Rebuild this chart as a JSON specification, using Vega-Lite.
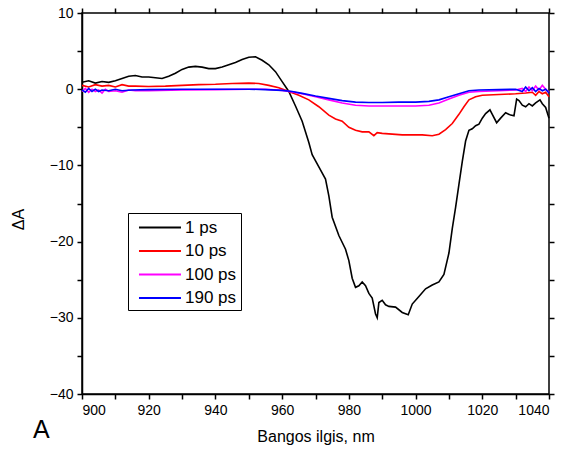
{
  "$schema": "https://vega.github.io/schema/vega-lite/v6.json",
  "autosize": {"type": "none"},
  "padding": {"left": 82, "top": 13, "right": 18, "bottom": 58},
  "width": 467,
  "height": 381,
  "background": "white",
  "config": {
    "font": "Liberation Sans",
    "view": {"stroke": "black", "strokeWidth": 1.5},
    "axis": {"grid": false, "domainColor": "black", "domainWidth": 1.5, "tickColor": "black", "tickWidth": 1.5, "labelColor": "black", "labelFont": "Liberation Sans", "labelFontSize": 14, "titleFont": "Liberation Sans", "titleFontWeight": "normal", "titleColor": "black"}
  },
  "title": {"text": "A", "orient": "bottom", "anchor": "start", "frame": "group", "dx": -49, "offset": -26, "fontSize": 25, "fontWeight": "normal", "font": "Liberation Sans", "color": "black"},
  "datasets": {
    "spectra": [
      {"nm": 900, "v": 0.9, "s": "1 ps"}, {"nm": 902, "v": 1.1, "s": "1 ps"}, {"nm": 904, "v": 0.8, "s": "1 ps"}, {"nm": 906, "v": 1.0, "s": "1 ps"}, {"nm": 908, "v": 0.9, "s": "1 ps"}, {"nm": 910, "v": 1.1, "s": "1 ps"}, {"nm": 912, "v": 1.4, "s": "1 ps"}, {"nm": 914, "v": 1.7, "s": "1 ps"}, {"nm": 916, "v": 1.8, "s": "1 ps"}, {"nm": 918, "v": 1.6, "s": "1 ps"}, {"nm": 920, "v": 1.6, "s": "1 ps"}, {"nm": 922, "v": 1.5, "s": "1 ps"}, {"nm": 924, "v": 1.4, "s": "1 ps"}, {"nm": 926, "v": 1.7, "s": "1 ps"}, {"nm": 928, "v": 2.1, "s": "1 ps"}, {"nm": 930, "v": 2.6, "s": "1 ps"}, {"nm": 932, "v": 2.9, "s": "1 ps"}, {"nm": 934, "v": 3.0, "s": "1 ps"}, {"nm": 936, "v": 2.9, "s": "1 ps"}, {"nm": 938, "v": 2.7, "s": "1 ps"}, {"nm": 940, "v": 2.7, "s": "1 ps"}, {"nm": 942, "v": 2.9, "s": "1 ps"}, {"nm": 944, "v": 3.2, "s": "1 ps"}, {"nm": 946, "v": 3.5, "s": "1 ps"}, {"nm": 948, "v": 3.9, "s": "1 ps"}, {"nm": 950, "v": 4.2, "s": "1 ps"}, {"nm": 952, "v": 4.25, "s": "1 ps"}, {"nm": 954, "v": 3.8, "s": "1 ps"}, {"nm": 956, "v": 3.2, "s": "1 ps"}, {"nm": 958, "v": 2.3, "s": "1 ps"}, {"nm": 960, "v": 1.0, "s": "1 ps"}, {"nm": 962, "v": -0.3, "s": "1 ps"}, {"nm": 964, "v": -2.2, "s": "1 ps"}, {"nm": 966, "v": -4.2, "s": "1 ps"}, {"nm": 968, "v": -7.0, "s": "1 ps"}, {"nm": 969, "v": -8.6, "s": "1 ps"}, {"nm": 971, "v": -10.2, "s": "1 ps"}, {"nm": 973, "v": -11.8, "s": "1 ps"}, {"nm": 974, "v": -14.0, "s": "1 ps"}, {"nm": 975, "v": -16.8, "s": "1 ps"}, {"nm": 977, "v": -19.2, "s": "1 ps"}, {"nm": 979, "v": -21.0, "s": "1 ps"}, {"nm": 980, "v": -22.5, "s": "1 ps"}, {"nm": 981, "v": -24.8, "s": "1 ps"}, {"nm": 982, "v": -26.0, "s": "1 ps"}, {"nm": 983, "v": -25.8, "s": "1 ps"}, {"nm": 984, "v": -25.3, "s": "1 ps"}, {"nm": 985, "v": -25.8, "s": "1 ps"}, {"nm": 986, "v": -26.8, "s": "1 ps"}, {"nm": 987, "v": -27.4, "s": "1 ps"}, {"nm": 988, "v": -29.5, "s": "1 ps"}, {"nm": 988.5, "v": -30.0, "s": "1 ps"}, {"nm": 989, "v": -28.0, "s": "1 ps"}, {"nm": 990, "v": -27.7, "s": "1 ps"}, {"nm": 991, "v": -28.3, "s": "1 ps"}, {"nm": 992, "v": -28.5, "s": "1 ps"}, {"nm": 994, "v": -28.6, "s": "1 ps"}, {"nm": 996, "v": -29.3, "s": "1 ps"}, {"nm": 997.8, "v": -29.6, "s": "1 ps"}, {"nm": 999, "v": -28.2, "s": "1 ps"}, {"nm": 1001, "v": -27.2, "s": "1 ps"}, {"nm": 1003, "v": -26.2, "s": "1 ps"}, {"nm": 1005, "v": -25.7, "s": "1 ps"}, {"nm": 1007, "v": -25.3, "s": "1 ps"}, {"nm": 1008.5, "v": -24.3, "s": "1 ps"}, {"nm": 1010, "v": -21.5, "s": "1 ps"}, {"nm": 1011, "v": -18.3, "s": "1 ps"}, {"nm": 1012, "v": -15.5, "s": "1 ps"}, {"nm": 1013, "v": -12.5, "s": "1 ps"}, {"nm": 1014, "v": -9.5, "s": "1 ps"}, {"nm": 1015, "v": -6.8, "s": "1 ps"}, {"nm": 1016, "v": -5.4, "s": "1 ps"}, {"nm": 1017, "v": -5.2, "s": "1 ps"}, {"nm": 1018, "v": -4.8, "s": "1 ps"}, {"nm": 1019, "v": -4.6, "s": "1 ps"}, {"nm": 1020, "v": -3.8, "s": "1 ps"}, {"nm": 1021, "v": -3.2, "s": "1 ps"}, {"nm": 1022.3, "v": -2.7, "s": "1 ps"}, {"nm": 1023, "v": -3.3, "s": "1 ps"}, {"nm": 1024.3, "v": -4.4, "s": "1 ps"}, {"nm": 1025.5, "v": -3.8, "s": "1 ps"}, {"nm": 1027, "v": -3.1, "s": "1 ps"}, {"nm": 1028.5, "v": -3.4, "s": "1 ps"}, {"nm": 1029.5, "v": -3.5, "s": "1 ps"}, {"nm": 1030.3, "v": -1.3, "s": "1 ps"}, {"nm": 1031, "v": -1.5, "s": "1 ps"}, {"nm": 1032, "v": -2.1, "s": "1 ps"}, {"nm": 1033, "v": -2.3, "s": "1 ps"}, {"nm": 1034, "v": -1.9, "s": "1 ps"}, {"nm": 1035, "v": -2.2, "s": "1 ps"}, {"nm": 1036, "v": -1.8, "s": "1 ps"}, {"nm": 1037.3, "v": -1.4, "s": "1 ps"}, {"nm": 1038, "v": -1.9, "s": "1 ps"}, {"nm": 1039, "v": -2.4, "s": "1 ps"}, {"nm": 1040, "v": -3.8, "s": "1 ps"},

      {"nm": 900, "v": 0.5, "s": "10 ps"}, {"nm": 902, "v": 0.3, "s": "10 ps"}, {"nm": 904, "v": 0.6, "s": "10 ps"}, {"nm": 906, "v": 0.4, "s": "10 ps"}, {"nm": 908, "v": 0.5, "s": "10 ps"}, {"nm": 910, "v": 0.3, "s": "10 ps"}, {"nm": 912, "v": 0.6, "s": "10 ps"}, {"nm": 914, "v": 0.4, "s": "10 ps"}, {"nm": 916, "v": 0.4, "s": "10 ps"}, {"nm": 920, "v": 0.35, "s": "10 ps"}, {"nm": 925, "v": 0.4, "s": "10 ps"}, {"nm": 930, "v": 0.5, "s": "10 ps"}, {"nm": 935, "v": 0.6, "s": "10 ps"}, {"nm": 940, "v": 0.65, "s": "10 ps"}, {"nm": 945, "v": 0.75, "s": "10 ps"}, {"nm": 950, "v": 0.8, "s": "10 ps"}, {"nm": 953, "v": 0.75, "s": "10 ps"}, {"nm": 956, "v": 0.5, "s": "10 ps"}, {"nm": 959, "v": 0.2, "s": "10 ps"}, {"nm": 962, "v": -0.3, "s": "10 ps"}, {"nm": 965, "v": -0.8, "s": "10 ps"}, {"nm": 968, "v": -1.4, "s": "10 ps"}, {"nm": 971, "v": -2.3, "s": "10 ps"}, {"nm": 974, "v": -3.4, "s": "10 ps"}, {"nm": 976, "v": -3.9, "s": "10 ps"}, {"nm": 978, "v": -4.2, "s": "10 ps"}, {"nm": 980, "v": -5.0, "s": "10 ps"}, {"nm": 982, "v": -5.4, "s": "10 ps"}, {"nm": 984, "v": -5.6, "s": "10 ps"}, {"nm": 986, "v": -5.6, "s": "10 ps"}, {"nm": 987.5, "v": -6.1, "s": "10 ps"}, {"nm": 988.5, "v": -5.7, "s": "10 ps"}, {"nm": 990, "v": -5.8, "s": "10 ps"}, {"nm": 993, "v": -5.9, "s": "10 ps"}, {"nm": 996, "v": -6.0, "s": "10 ps"}, {"nm": 999, "v": -6.0, "s": "10 ps"}, {"nm": 1002, "v": -6.0, "s": "10 ps"}, {"nm": 1005, "v": -6.1, "s": "10 ps"}, {"nm": 1007, "v": -5.9, "s": "10 ps"}, {"nm": 1009, "v": -5.3, "s": "10 ps"}, {"nm": 1011, "v": -4.5, "s": "10 ps"}, {"nm": 1013, "v": -3.3, "s": "10 ps"}, {"nm": 1014.5, "v": -2.3, "s": "10 ps"}, {"nm": 1016, "v": -1.4, "s": "10 ps"}, {"nm": 1018, "v": -1.0, "s": "10 ps"}, {"nm": 1020, "v": -0.8, "s": "10 ps"}, {"nm": 1025, "v": -0.7, "s": "10 ps"}, {"nm": 1030, "v": -0.6, "s": "10 ps"}, {"nm": 1033, "v": -0.5, "s": "10 ps"}, {"nm": 1035, "v": -0.4, "s": "10 ps"}, {"nm": 1036, "v": -0.8, "s": "10 ps"}, {"nm": 1037, "v": -0.3, "s": "10 ps"}, {"nm": 1038, "v": -0.6, "s": "10 ps"}, {"nm": 1039, "v": -0.4, "s": "10 ps"}, {"nm": 1040, "v": -1.0, "s": "10 ps"},

      {"nm": 900, "v": -0.3, "s": "100 ps"}, {"nm": 901, "v": 0.1, "s": "100 ps"}, {"nm": 902, "v": -0.4, "s": "100 ps"}, {"nm": 903, "v": 0.0, "s": "100 ps"}, {"nm": 904, "v": -0.3, "s": "100 ps"}, {"nm": 905, "v": -0.1, "s": "100 ps"}, {"nm": 906, "v": -0.5, "s": "100 ps"}, {"nm": 907, "v": 0.0, "s": "100 ps"}, {"nm": 908, "v": -0.3, "s": "100 ps"}, {"nm": 910, "v": -0.2, "s": "100 ps"}, {"nm": 912, "v": -0.4, "s": "100 ps"}, {"nm": 914, "v": -0.1, "s": "100 ps"}, {"nm": 916, "v": -0.2, "s": "100 ps"}, {"nm": 920, "v": -0.2, "s": "100 ps"}, {"nm": 930, "v": -0.1, "s": "100 ps"}, {"nm": 940, "v": -0.05, "s": "100 ps"}, {"nm": 950, "v": 0.0, "s": "100 ps"}, {"nm": 955, "v": 0.0, "s": "100 ps"}, {"nm": 960, "v": -0.15, "s": "100 ps"}, {"nm": 963, "v": -0.35, "s": "100 ps"}, {"nm": 966, "v": -0.6, "s": "100 ps"}, {"nm": 970, "v": -1.0, "s": "100 ps"}, {"nm": 974, "v": -1.4, "s": "100 ps"}, {"nm": 978, "v": -1.8, "s": "100 ps"}, {"nm": 982, "v": -2.1, "s": "100 ps"}, {"nm": 986, "v": -2.2, "s": "100 ps"}, {"nm": 990, "v": -2.2, "s": "100 ps"}, {"nm": 995, "v": -2.2, "s": "100 ps"}, {"nm": 1000, "v": -2.2, "s": "100 ps"}, {"nm": 1004, "v": -2.1, "s": "100 ps"}, {"nm": 1007, "v": -1.8, "s": "100 ps"}, {"nm": 1010, "v": -1.3, "s": "100 ps"}, {"nm": 1013, "v": -0.8, "s": "100 ps"}, {"nm": 1016, "v": -0.4, "s": "100 ps"}, {"nm": 1019, "v": -0.3, "s": "100 ps"}, {"nm": 1025, "v": -0.2, "s": "100 ps"}, {"nm": 1030, "v": -0.1, "s": "100 ps"}, {"nm": 1032, "v": 0.1, "s": "100 ps"}, {"nm": 1033, "v": -0.3, "s": "100 ps"}, {"nm": 1034, "v": 0.3, "s": "100 ps"}, {"nm": 1035, "v": -0.2, "s": "100 ps"}, {"nm": 1036, "v": 0.4, "s": "100 ps"}, {"nm": 1037, "v": -0.1, "s": "100 ps"}, {"nm": 1038, "v": 0.5, "s": "100 ps"}, {"nm": 1039, "v": 0.0, "s": "100 ps"}, {"nm": 1040, "v": -0.4, "s": "100 ps"},

      {"nm": 900, "v": -0.1, "s": "190 ps"}, {"nm": 901, "v": -0.4, "s": "190 ps"}, {"nm": 902, "v": 0.1, "s": "190 ps"}, {"nm": 903, "v": -0.3, "s": "190 ps"}, {"nm": 904, "v": 0.0, "s": "190 ps"}, {"nm": 905, "v": -0.3, "s": "190 ps"}, {"nm": 906, "v": -0.1, "s": "190 ps"}, {"nm": 908, "v": -0.2, "s": "190 ps"}, {"nm": 910, "v": 0.0, "s": "190 ps"}, {"nm": 912, "v": -0.2, "s": "190 ps"}, {"nm": 915, "v": -0.1, "s": "190 ps"}, {"nm": 920, "v": -0.05, "s": "190 ps"}, {"nm": 930, "v": 0.0, "s": "190 ps"}, {"nm": 940, "v": 0.0, "s": "190 ps"}, {"nm": 950, "v": 0.0, "s": "190 ps"}, {"nm": 955, "v": -0.05, "s": "190 ps"}, {"nm": 960, "v": -0.15, "s": "190 ps"}, {"nm": 963, "v": -0.3, "s": "190 ps"}, {"nm": 966, "v": -0.55, "s": "190 ps"}, {"nm": 970, "v": -0.9, "s": "190 ps"}, {"nm": 974, "v": -1.2, "s": "190 ps"}, {"nm": 978, "v": -1.5, "s": "190 ps"}, {"nm": 982, "v": -1.7, "s": "190 ps"}, {"nm": 986, "v": -1.75, "s": "190 ps"}, {"nm": 990, "v": -1.75, "s": "190 ps"}, {"nm": 995, "v": -1.7, "s": "190 ps"}, {"nm": 1000, "v": -1.7, "s": "190 ps"}, {"nm": 1004, "v": -1.6, "s": "190 ps"}, {"nm": 1007, "v": -1.4, "s": "190 ps"}, {"nm": 1010, "v": -1.0, "s": "190 ps"}, {"nm": 1013, "v": -0.6, "s": "190 ps"}, {"nm": 1016, "v": -0.2, "s": "190 ps"}, {"nm": 1019, "v": -0.1, "s": "190 ps"}, {"nm": 1025, "v": -0.05, "s": "190 ps"}, {"nm": 1030, "v": 0.0, "s": "190 ps"}, {"nm": 1032, "v": -0.3, "s": "190 ps"}, {"nm": 1033, "v": 0.3, "s": "190 ps"}, {"nm": 1034, "v": -0.2, "s": "190 ps"}, {"nm": 1035, "v": 0.2, "s": "190 ps"}, {"nm": 1036, "v": -0.3, "s": "190 ps"}, {"nm": 1037, "v": 0.1, "s": "190 ps"}, {"nm": 1038, "v": -0.2, "s": "190 ps"}, {"nm": 1039, "v": 0.0, "s": "190 ps"}, {"nm": 1040, "v": -0.5, "s": "190 ps"}
    ]
  },
  "resolve": {"axis": {"x": "independent", "y": "independent"}},
  "layer": [
    {
      "mark": {"type": "rule", "color": "black", "strokeWidth": 1.5},
      "encoding": {
        "x": {"datum": 900, "type": "quantitative", "scale": {"domain": [900, 1040], "nice": false, "zero": false},
          "axis": {"orient": "top", "title": null, "labels": false, "domain": false, "values": [900, 910, 920, 930, 940, 950, 960, 970, 980, 990, 1000, 1010, 1020, 1030, 1040], "tickSize": 5,
            "encode": {"ticks": {"update": {"y2": {"signal": "datum.value % 20 === 0 ? 6 : 3"}}}}}},
        "x2": {"datum": 1040},
        "y": {"datum": 0, "type": "quantitative", "scale": {"domain": [-40, 10], "nice": false, "zero": false},
          "axis": {"orient": "right", "title": null, "labels": false, "domain": false, "values": [-40, -35, -30, -25, -20, -15, -10, -5, 0, 5, 10], "tickSize": 5,
            "encode": {"ticks": {"update": {"x2": {"signal": "datum.value % 10 === 0 ? -6 : -3"}}}}}}
      }
    },
    {
      "data": {"name": "spectra"},
      "mark": {"type": "line", "strokeWidth": 1.6, "interpolate": "linear"},
      "encoding": {
        "x": {"field": "nm", "type": "quantitative", "scale": {"domain": [900, 1040], "nice": false, "zero": false},
          "axis": {"orient": "bottom", "title": "Bangos ilgis, nm", "titleFontSize": 16, "titlePadding": 11, "format": "d", "values": [900, 910, 920, 930, 940, 950, 960, 970, 980, 990, 1000, 1010, 1020, 1030, 1040], "tickSize": 5, "labelPadding": 4,
            "labelExpr": "datum.value % 20 === 0 ? datum.label : ''",
            "encode": {"ticks": {"update": {"y2": {"signal": "datum.value % 20 === 0 ? -6 : -3"}}}}}},
        "y": {"field": "v", "type": "quantitative", "scale": {"domain": [-40, 10], "nice": false, "zero": false},
          "axis": {"orient": "left", "title": "ΔA", "titleFontSize": 16, "titlePadding": 23, "titleY": 206, "values": [-40, -35, -30, -25, -20, -15, -10, -5, 0, 5, 10], "tickSize": 5, "labelPadding": 4,
            "labelExpr": "datum.value % 10 === 0 ? datum.label : ''",
            "encode": {"ticks": {"update": {"x2": {"signal": "datum.value % 10 === 0 ? 6 : 3"}}}}}},
        "color": {"field": "s", "type": "nominal",
          "scale": {"domain": ["1 ps", "10 ps", "100 ps", "190 ps"], "range": ["#000000", "#ff0000", "#ff00ff", "#0000ff"]},
          "legend": {"orient": "none", "legendX": 46, "legendY": 200, "title": null, "symbolType": "M-0.37,0H4.05", "symbolSize": 361, "symbolStrokeWidth": 2, "symbolFillColor": "transparent", "labelFontSize": 17, "labelFont": "Liberation Sans", "labelColor": "black", "strokeColor": "black", "fillColor": "white", "padding": 4, "rowPadding": 4.5, "labelOffset": 32}},
        "order": {"field": "s", "sort": "ascending"}
      }
    }
  ]
}
